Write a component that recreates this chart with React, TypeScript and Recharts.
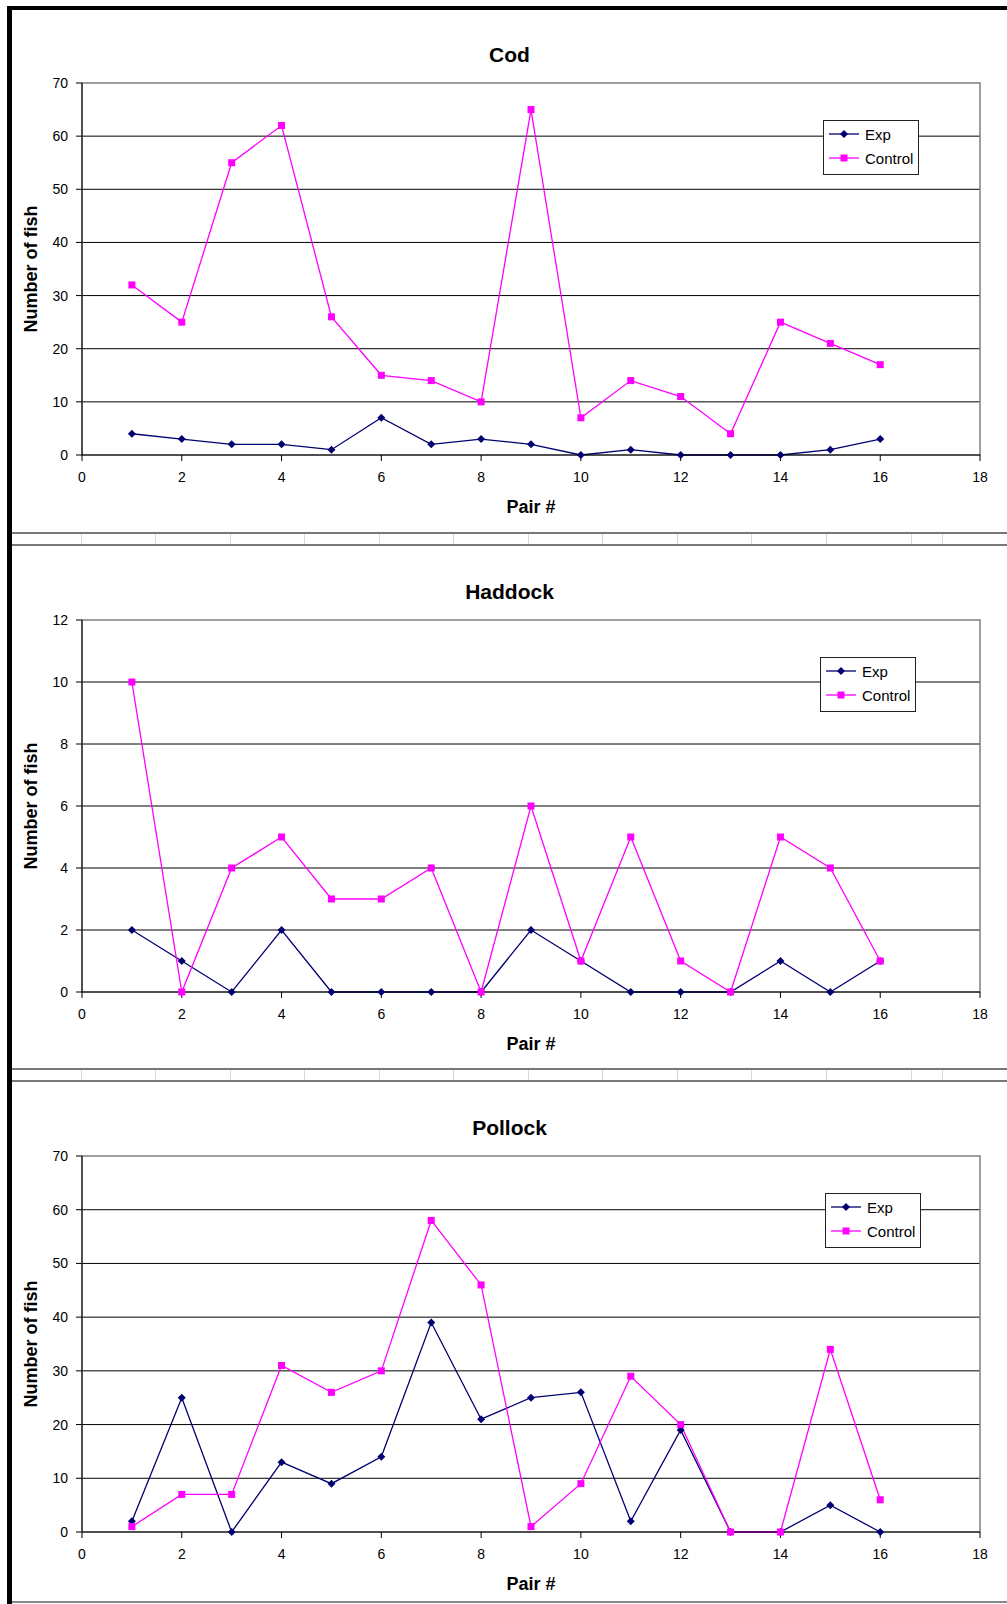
import React from 'react'
import { LineChart, Line, XAxis, YAxis, CartesianGrid, Legend, ReferenceArea } from 'recharts'

const PAIRS = [1, 2, 3, 4, 5, 6, 7, 8, 9, 10, 11, 12, 13, 14, 15, 16]
const X_TICKS = [0, 2, 4, 6, 8, 10, 12, 14, 16, 18]

const COD_EXP = [4, 3, 2, 2, 1, 7, 2, 3, 2, 0, 1, 0, 0, 0, 1, 3]
const COD_CONTROL = [32, 25, 55, 62, 26, 15, 14, 10, 65, 7, 14, 11, 4, 25, 21, 17]
const COD_Y_TICKS = [0, 10, 20, 30, 40, 50, 60, 70]

const HADDOCK_EXP = [2, 1, 0, 2, 0, 0, 0, 0, 2, 1, 0, 0, 0, 1, 0, 1]
const HADDOCK_CONTROL = [10, 0, 4, 5, 3, 3, 4, 0, 6, 1, 5, 1, 0, 5, 4, 1]
const HADDOCK_Y_TICKS = [0, 2, 4, 6, 8, 10, 12]

const POLLOCK_EXP = [2, 25, 0, 13, 9, 14, 39, 21, 25, 26, 2, 19, 0, 0, 5, 0]
const POLLOCK_CONTROL = [1, 7, 7, 31, 26, 30, 58, 46, 1, 9, 29, 20, 0, 0, 34, 6]
const POLLOCK_Y_TICKS = [0, 10, 20, 30, 40, 50, 60, 70]

const SERIES_ORDER = ['Exp', 'Control']

// faint spreadsheet cell borders showing between the chart objects
const CELL_LINES = [81, 155, 230, 304, 379, 453, 528, 602, 677, 751, 826, 911, 942]

const FONT = 'Arial, "Liberation Sans", sans-serif'
const EXP_COLOR = '#000070'
const CONTROL_COLOR = '#FF00FF'

const Diamond = ({ cx, cy, fill }: any) => (
  <polygon points={`${cx},${cy - 4} ${cx + 4},${cy} ${cx},${cy + 4} ${cx - 4},${cy}`} fill={fill} />
)
const Square = ({ cx, cy, fill }: any) => <rect x={cx - 3.5} y={cy - 3.5} width={7} height={7} fill={fill} />

function LegendBox({ payload }: any) {
  const items = [...(payload || [])].sort((a: any, b: any) => SERIES_ORDER.indexOf(a.value) - SERIES_ORDER.indexOf(b.value))
  return (
    <div
      style={{
        border: '1.5px solid #222',
        background: '#fff',
        padding: '1px 0 4px 4px',
        fontFamily: FONT,
        fontSize: 15,
        width: 96,
        boxSizing: 'border-box',
      }}
    >
      {items.map((p: any) => (
        <div key={p.value} style={{ display: 'flex', alignItems: 'center', height: 24 }}>
          <svg width={34} height={12}>
            <line x1={1} x2={31} y1={6} y2={6} stroke={p.color} strokeWidth={1.3} />
            {p.value === 'Exp' ? <Diamond cx={16} cy={6} fill={p.color} /> : <Square cx={16} cy={6} fill={p.color} />}
          </svg>
          <span style={{ marginLeft: 3 }}>{p.value}</span>
        </div>
      ))}
    </div>
  )
}

type PanelProps = {
  title: string
  exp: number[]
  control: number[]
  yTicks: number[]
  plotTop: number
  plotHeight: number
  legendLeft: number
}

function FishPanel({ title, exp, control, yTicks, plotTop, plotHeight, legendLeft }: PanelProps) {
  const data = PAIRS.map((p, i) => ({ pair: p, exp: exp[i], control: control[i] }))
  const yMax = yTicks[yTicks.length - 1]
  const chartTop = plotTop - 83
  return (
    <>
      <div style={{ position: 'absolute', left: 0, top: chartTop }}>
        <LineChart
          width={1007}
          height={83 + plotHeight + 60}
          data={data}
          margin={{ top: 83, right: 27, bottom: 30, left: 12 }}
        >
          <CartesianGrid vertical={false} stroke="#000" horizontalValues={yTicks.slice(1, -1)} />
          <ReferenceArea x1={0} x2={18} y1={0} y2={yMax} fill="none" stroke="#808080" strokeWidth={1.5} />
          <XAxis
            type="number"
            dataKey="pair"
            domain={[0, 18]}
            ticks={X_TICKS}
            height={30}
            stroke="#000"
            tickSize={6}
            tickMargin={11}
            tick={{ fill: '#000', fontSize: 14, fontFamily: FONT }}
          />
          <YAxis
            domain={[0, yMax]}
            ticks={yTicks}
            width={70}
            stroke="#000"
            tickSize={6}
            tickMargin={8}
            tick={{ fill: '#000', fontSize: 14, fontFamily: FONT }}
          />
          <Legend
            layout="horizontal"
            verticalAlign="middle"
            align="center"
            wrapperStyle={{ top: 120, left: legendLeft, width: 100 }}
            content={<LegendBox />}
          />
          <Line
            name="Exp"
            dataKey="exp"
            stroke={EXP_COLOR}
            strokeWidth={1.3}
            dot={(p: any) => <Diamond key={p.index} cx={p.cx} cy={p.cy} fill={EXP_COLOR} />}
            isAnimationActive={false}
          />
          <Line
            name="Control"
            dataKey="control"
            stroke={CONTROL_COLOR}
            strokeWidth={1.3}
            dot={(p: any) => <Square key={p.index} cx={p.cx} cy={p.cy} fill={CONTROL_COLOR} />}
            isAnimationActive={false}
          />
        </LineChart>
      </div>
      <div
        style={{
          position: 'absolute',
          left: 12,
          width: 995,
          top: plotTop - 41,
          lineHeight: '26px',
          textAlign: 'center',
          fontFamily: FONT,
          fontWeight: 'bold',
          fontSize: 21,
        }}
      >
        {title}
      </div>
      <div
        style={{
          position: 'absolute',
          left: 82,
          width: 898,
          top: plotTop + plotHeight + 41,
          lineHeight: '22px',
          textAlign: 'center',
          fontFamily: FONT,
          fontWeight: 'bold',
          fontSize: 18,
        }}
      >
        Pair #
      </div>
      <div
        style={{
          position: 'absolute',
          left: 31 - 100,
          width: 200,
          top: plotTop + plotHeight / 2 - 11,
          lineHeight: '22px',
          textAlign: 'center',
          fontFamily: FONT,
          fontWeight: 'bold',
          fontSize: 18,
          transform: 'rotate(-90deg)',
        }}
      >
        Number of fish
      </div>
    </>
  )
}

function Separator({ top }: { top: number }) {
  return (
    <>
      <div style={{ position: 'absolute', left: 7, width: 1000, top, height: 2, background: '#777' }} />
      <div style={{ position: 'absolute', left: 7, width: 1000, top: top + 12, height: 2, background: '#777' }} />
      {CELL_LINES.map((x) => (
        <div key={x} style={{ position: 'absolute', left: x, top: top + 2, width: 1, height: 10, background: '#d8d8d8' }} />
      ))}
    </>
  )
}

export default function App() {
  return (
    <div style={{ position: 'absolute', left: 0, top: 0, width: 1007, height: 1604, background: '#fff', overflow: 'hidden' }}>
      <Separator top={532} />
      <Separator top={1068} />
      <div style={{ position: 'absolute', left: 7, width: 1000, top: 1601, height: 2, background: '#888' }} />
      <FishPanel title="Cod" exp={COD_EXP} control={COD_CONTROL} yTicks={COD_Y_TICKS} plotTop={83} plotHeight={372} legendLeft={823} />
      <FishPanel
        title="Haddock"
        exp={HADDOCK_EXP}
        control={HADDOCK_CONTROL}
        yTicks={HADDOCK_Y_TICKS}
        plotTop={620}
        plotHeight={372}
        legendLeft={820}
      />
      <FishPanel
        title="Pollock"
        exp={POLLOCK_EXP}
        control={POLLOCK_CONTROL}
        yTicks={POLLOCK_Y_TICKS}
        plotTop={1156}
        plotHeight={376}
        legendLeft={825}
      />
      <div style={{ position: 'absolute', left: 7, width: 1000, top: 6, height: 4, background: '#000' }} />
      <div style={{ position: 'absolute', left: 7, width: 5, top: 6, height: 1598, background: '#000' }} />
    </div>
  )
}
